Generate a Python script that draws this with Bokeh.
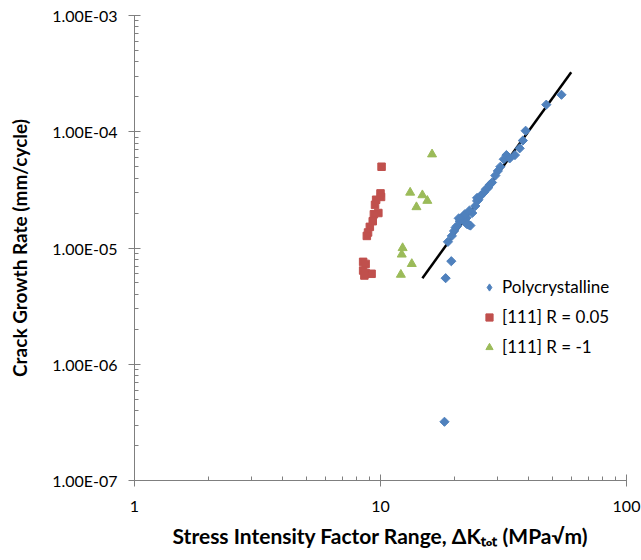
import math
from bokeh.plotting import figure
from bokeh.models import (Range1d, FixedTicker, CustomJSTickFormatter, Legend, LegendItem)
from bokeh.embed import file_html
from bokeh.resources import INLINE

# ---- data ----
poly_x = [54.4, 47.2, 38.9, 37.9, 36.8, 35.2, 32.5, 31.7, 33.5, 30.7, 30.0, 29.3, 28.4, 27.8,
          27.4, 26.8, 26.3, 25.5, 25.0, 24.7, 24.7, 24.3, 23.6, 23.0, 22.4, 22.0, 21.8, 21.2,
          21.0, 20.8, 22.9, 23.2, 22.2, 22.5, 20.5, 20.2, 19.9, 19.5, 18.8, 19.4, 18.4, 18.2]
poly_y = [2.08e-4, 1.71e-4, 1.02e-4, 8.4e-5, 7.2e-5, 6.3e-5, 6.3e-5, 5.8e-5, 5.9e-5, 5.0e-5,
          4.6e-5, 4.2e-5, 3.66e-5, 3.5e-5, 3.3e-5, 3.2e-5, 3.0e-5, 2.8e-5, 2.6e-5, 2.54e-5,
          2.7e-5, 2.3e-5, 2.0e-5, 2.1e-5, 1.82e-5, 1.95e-5, 1.89e-5, 1.77e-5, 1.7e-5, 1.8e-5,
          1.58e-5, 1.56e-5, 1.65e-5, 1.6e-5, 1.55e-5, 1.5e-5, 1.40e-5, 1.27e-5, 1.13e-5,
          7.7e-6, 5.5e-6, 3.2e-7]

r005_x = [10.1, 10.0, 10.05, 9.6, 9.5, 9.8, 9.4, 9.3, 9.05, 8.9, 8.8, 8.5, 8.7, 8.5, 8.7, 9.2, 8.6]
r005_y = [5.0e-5, 2.95e-5, 2.75e-5, 2.6e-5, 2.35e-5, 2.0e-5, 1.95e-5, 1.7e-5, 1.52e-5, 1.36e-5,
          1.27e-5, 7.6e-6, 7.3e-6, 6.4e-6, 6.1e-6, 6.0e-6, 5.8e-6]

rm1_x = [16.2, 13.2, 14.8, 15.5, 14.0, 12.3, 12.2, 13.4, 12.1]
rm1_y = [6.4e-5, 3.0e-5, 2.85e-5, 2.55e-5, 2.25e-5, 1.0e-5, 8.8e-6, 7.3e-6, 5.9e-6]

fit_x = [14.8, 59.6]
fit_y = [5.5e-6, 3.25e-4]

x_ticks = [1, 10, 100]
y_ticks = [1e-7, 1e-6, 1e-5, 1e-4, 1e-3]

series_names = ["Polycrystalline", "[111] R = 0.05", "[111] R = -1"]
colors = ["#4F81BD", "#C0504D", "#9BBB59"]

FONT = "Lato"
AXIS_COLOR = "#7f7f7f"

p = figure(width=641, height=560, x_axis_type="log", y_axis_type="log",
           x_range=Range1d(1, 100), y_range=Range1d(1e-7, 1e-3),
           output_backend="svg", toolbar_location=None,
           min_border_left=134, min_border_right=15, min_border_top=15,
           min_border_bottom=80)
p.outline_line_color = None
p.xgrid.visible = False
p.ygrid.visible = False
p.background_fill_color = "white"
p.border_fill_color = "white"

# minor tick positions 2..9 within each decade
x_minor = [m * d for d in [1, 10] for m in range(2, 10)]
y_minor = [m * d for d in [1e-7, 1e-6, 1e-5, 1e-4] for m in range(2, 10)]
p.xaxis.ticker = FixedTicker(ticks=x_ticks, minor_ticks=x_minor)
p.yaxis.ticker = FixedTicker(ticks=y_ticks, minor_ticks=y_minor)

p.xaxis.formatter = CustomJSTickFormatter(code="return Math.round(tick).toString();")
p.yaxis.formatter = CustomJSTickFormatter(code="""
const s = tick.toExponential(2).toUpperCase();
const parts = s.split('E');
let e = parts[1];
const sign = e[0] === '-' ? '-' : '+';
e = e.replace('-', '').replace('+', '');
while (e.length < 2) { e = '0' + e; }
return parts[0] + 'E' + sign + e;
""")

for ax in (p.xaxis[0], p.yaxis[0]):
    ax.axis_line_color = AXIS_COLOR
    ax.major_tick_line_color = AXIS_COLOR
    ax.minor_tick_line_color = AXIS_COLOR
    ax.major_tick_in = 6
    ax.major_tick_out = 6
    ax.minor_tick_in = 4
    ax.minor_tick_out = 0
    ax.major_label_text_font = FONT
    ax.major_label_text_font_size = "16px"
    ax.major_label_text_color = "#000000"
    ax.axis_label_text_font = FONT
    ax.axis_label_text_font_style = "bold"
    ax.axis_label_text_color = "#000000"

p.xaxis.axis_label_text_font_size = "21px"
p.yaxis.axis_label_text_font_size = "19px"
p.xaxis.major_label_standoff = 14
p.yaxis.major_label_standoff = 11
p.xaxis.axis_label = "Stress Intensity Factor Range, ΔKₜₒₜ (MPa√m)"
p.yaxis.axis_label = "Crack Growth Rate (mm/cycle)"
p.xaxis.axis_label_standoff = 8
p.yaxis.axis_label_standoff = 18

# fit line
p.line(fit_x, fit_y, line_color="black", line_width=2.5)

p.scatter(poly_x, poly_y, marker="square", size=6.5, angle=math.pi / 4,
          fill_color=colors[0], line_color=colors[0])
r2 = p.scatter(r005_x, r005_y, marker="square", size=7.5,
               fill_color=colors[1], line_color=colors[1])
r3 = p.scatter(rm1_x, rm1_y, marker="triangle", size=9,
               fill_color=colors[2], line_color=colors[2])
# legend-only diamond (legend glyphs ignore marker angle); a non-drawn NaN point
r1_leg = p.scatter([math.nan], [math.nan], marker="diamond", size=10,
                   fill_color=colors[0], line_color=colors[0])

legend = Legend(items=[LegendItem(label=series_names[0], renderers=[r1_leg]),
                       LegendItem(label=series_names[1], renderers=[r2]),
                       LegendItem(label=series_names[2], renderers=[r3])],
                location=(346, 123))
legend.border_line_color = None
legend.background_fill_alpha = 0
legend.padding = 0
legend.margin = 0
legend.spacing = 9
legend.glyph_width = 18
legend.glyph_height = 18
legend.label_height = 20
legend.label_standoff = 4
legend.label_text_font = FONT
legend.label_text_font_size = "17px"
legend.label_text_color = "#000000"
p.add_layout(legend)

open("out.html", "w").write(file_html(p, INLINE))
